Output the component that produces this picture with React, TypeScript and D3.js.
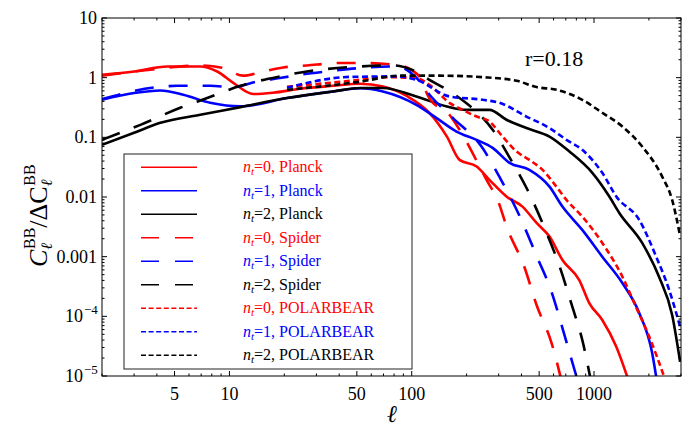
import React from 'react';
import * as d3 from 'd3';

// signal-to-noise ratio C_l^BB / ΔC_l^BB, pairs of [ell, ratio]
const planck0: [number, number][] = [[2, 1.12], [3, 1.27], [4.56, 1.54], [6.92, 1.54], [8.57, 1.27], [10.5, 0.82], [13.5, 0.531], [17.3, 0.558], [24.4, 0.652], [37, 0.731], [52, 0.79], [69.5, 0.712], [95, 0.484], [125, 0.258], [156, 0.103], [183, 0.0419], [227, 0.0324], [267, 0.0194], [331, 0.0102], [405, 0.0069], [484, 0.00367], [570, 0.00217], [671, 0.00088], [830, 0.000406], [942, 0.000167], [1110, 0.0000867], [1325, 0.0000309], [1522, 0.0000097]];
const planck1: [number, number][] = [[2, 0.426], [3, 0.552], [4.18, 0.61], [5.58, 0.517], [7.84, 0.379], [11.5, 0.33], [20.7, 0.455], [37, 0.587], [52, 0.665], [69.5, 0.587], [106, 0.351], [137, 0.21], [176, 0.125], [227, 0.0908], [278, 0.0667], [344, 0.0373], [442, 0.0285], [570, 0.0149], [671, 0.0069], [862, 0.00281], [1110, 0.001], [1430, 0.000362], [1770, 0.000114], [2084, 0.0000242], [2193, 0.0000097]];
const planck2: [number, number][] = [[2, 0.0748], [3, 0.119], [4.18, 0.175], [6.92, 0.239], [11.5, 0.321], [20.7, 0.455], [37, 0.587], [52, 0.67], [69.5, 0.67], [106, 0.484], [156, 0.329], [200, 0.289], [267, 0.289], [331, 0.197], [426, 0.143], [570, 0.103], [733, 0.0578], [979, 0.0254], [1213, 0.0102], [1376, 0.00541], [1837, 0.0017], [2276, 0.000456], [2683, 0.000105], [2966, 0.0000173]];
const spider0: [number, number][] = [[2, 1.08], [3.68, 1.36], [6.92, 1.6], [9.12, 1.47], [11.9, 1.08], [15.3, 1.27], [19.7, 1.48], [26.6, 1.6], [40.4, 1.76], [52, 1.76], [82.8, 1.64], [108, 1.12], [125, 0.45], [161, 0.239], [183, 0.134], [261, 0.0179], [296, 0.00893], [335, 0.00292], [413, 0.000698], [484, 0.000155], [585, 0.0000357], [658, 0.0000092]];
const spider1: [number, number][] = [[2, 0.438], [4.02, 0.695], [5.17, 0.731], [7.84, 0.731], [10.5, 0.695], [14.2, 0.863], [18.9, 0.984], [24.4, 1.12], [34.2, 1.27], [52, 1.45], [82.8, 1.54], [106, 0.996], [128, 0.479], [168, 0.212], [242, 0.0693], [309, 0.0194], [395, 0.00446], [484, 0.00103], [585, 0.000256], [681, 0.0000546], [782, 0.0000126], [812, 0.0000085]];
const spider2: [number, number][] = [[2, 0.0908], [3.25, 0.162], [5.37, 0.313], [7.55, 0.455], [11.5, 0.731], [18.9, 1.05], [26.6, 1.27], [52, 1.54], [78.8, 1.61], [100, 1.36], [125, 0.922], [156, 0.627], [195, 0.394], [236, 0.239], [278, 0.134], [340, 0.0489], [432, 0.0131], [535, 0.00303], [646, 0.000698], [752, 0.000161], [873, 0.0000343], [955, 0.0000092]];
const polar0: [number, number][] = [[20.7, 0.704], [52, 0.922], [69.5, 1.02], [106, 0.984], [125, 0.76], [161, 0.379], [190, 0.289], [227, 0.223], [267, 0.184], [315, 0.103], [376, 0.0578], [442, 0.0419], [522, 0.0285], [622, 0.0149], [706, 0.00893], [862, 0.00469], [1110, 0.0017], [1430, 0.000462], [1697, 0.000145], [2009, 0.0000455], [2426, 0.0000097]];
const polar1: [number, number][] = [[20.7, 0.677], [45.8, 1.03], [82.8, 1.05], [106, 0.922], [161, 0.484], [245, 0.426], [303, 0.379], [426, 0.223], [570, 0.143], [706, 0.0908], [862, 0.0617], [1110, 0.0254], [1325, 0.0102], [1770, 0.00413], [2193, 0.001], [2585, 0.000276], [2966, 0.0000669]];
const polar2: [number, number][] = [[20.7, 0.627], [52, 0.855], [86, 1.08], [142, 1.08], [245, 1.02], [376, 0.887], [484, 0.695], [622, 0.627], [862, 0.426], [1110, 0.258], [1430, 0.152], [1837, 0.0701], [2365, 0.022], [2683, 0.00893], [2966, 0.00222]];

const ntValues = ['0', '1', '2'];
const experiments = ['Planck', 'Spider', 'POLARBEAR'];
const xMajorTicks = [5, 10, 50, 100, 500, 1000];
const yMajorTicks = [10, 1, 0.1, 0.01, 0.001, 1e-4, 1e-5];
const yTickText = ['10', '1', '0.1', '0.01', '0.001', '10|−4', '10|−5'];

const W = 696;
const H = 432;
const plot = { left: 102, right: 681, top: 18, bottom: 376 };
const FONT = "'Liberation Serif', 'DejaVu Serif', serif";

const colors = ['#ff0000', '#0000ff', '#000000'];
const dashes = [null, '19,15', '6,3.5'];

const series = [
  { data: planck0, nt: 0, exp: 0 },
  { data: planck1, nt: 1, exp: 0 },
  { data: planck2, nt: 2, exp: 0 },
  { data: spider0, nt: 0, exp: 1 },
  { data: spider1, nt: 1, exp: 1 },
  { data: spider2, nt: 2, exp: 1 },
  { data: polar0, nt: 0, exp: 2 },
  { data: polar1, nt: 1, exp: 2 },
  { data: polar2, nt: 2, exp: 2 },
];

const x = d3.scaleLog().domain([2, 3000]).range([plot.left, plot.right]);
const y = d3.scaleLog().domain([1e-5, 10]).range([plot.bottom, plot.top]);

const line = d3.line<[number, number]>()
  .x(d => x(d[0]))
  .y(d => y(d[1]))
  .curve(d3.curveMonotoneX);

// minor ticks at 2..9 x 10^n within the domain
const minorTicks = (lo: number, hi: number, major: number[]) => {
  const out: number[] = [];
  for (let e = Math.floor(Math.log10(lo)); e <= Math.ceil(Math.log10(hi)); e++) {
    for (let k = 1; k < 10; k++) {
      const v = k * Math.pow(10, e);
      if (v >= lo && v <= hi && !major.some(m => Math.abs(m - v) / v < 1e-9)) out.push(v);
    }
  }
  return out;
};

const xMinor = minorTicks(2, 3000, xMajorTicks);
const yMinor = minorTicks(1e-5, 10, yMajorTicks);

const App = () => {
  const legendX = 124;
  const legendY = 154;
  const rowH = 23.5;

  return (
    <svg width={W} height={H} style={{ position: 'absolute', left: 0, top: 0, background: '#fff', fontFamily: FONT }}>
      <defs>
        <clipPath id="plot-clip">
          <rect x={plot.left} y={plot.top} width={plot.right - plot.left} height={plot.bottom - plot.top} />
        </clipPath>
      </defs>

      {/* curves */}
      <g clipPath="url(#plot-clip)">
        {series.map((s, i) => (
          <path key={i} d={line(s.data) || ''} fill="none" stroke={colors[s.nt]}
            strokeWidth={2.6} strokeDasharray={dashes[s.exp] || undefined} />
        ))}
      </g>

      {/* legend */}
      <rect x={legendX} y={legendY} width={412 - legendX} height={369 - legendY} fill="#fff" stroke="#222" strokeWidth={1} />
      {series.map((s, i) => {
        const cy = legendY + 13.3 + i * rowH;
        return (
          <g key={i}>
            <line x1={141} x2={s.exp === 1 ? 193 : 197} y1={cy} y2={cy} stroke={colors[s.nt]}
              strokeWidth={1.4} strokeDasharray={s.exp === 1 ? '18,16' : s.exp === 2 ? '5,2.6' : undefined} />
            <text x={243} y={cy + 5} fontSize={16} fill={colors[s.nt]} style={{ fontFamily: FONT }}>
              <tspan fontStyle="italic">n</tspan>
              <tspan fontStyle="italic" fontSize={11} dy={3}>t</tspan>
              <tspan dy={-3}>={ntValues[s.nt]}, {experiments[s.exp]}</tspan>
            </text>
          </g>
        );
      })}

      {/* frame */}
      <rect x={plot.left} y={plot.top} width={plot.right - plot.left} height={plot.bottom - plot.top}
        fill="none" stroke="#000" strokeWidth={1} />

      {/* x ticks */}
      {xMajorTicks.map(t => (
        <g key={'xm' + t}>
          <line x1={x(t)} x2={x(t)} y1={plot.bottom} y2={plot.bottom - 5} stroke="#000" />
          <line x1={x(t)} x2={x(t)} y1={plot.top} y2={plot.top + 5} stroke="#000" />
          <text x={x(t)} y={400} fontSize={18} textAnchor="middle" style={{ fontFamily: FONT }}>{t}</text>
        </g>
      ))}
      {xMinor.map(t => (
        <g key={'xn' + t}>
          <line x1={x(t)} x2={x(t)} y1={plot.bottom} y2={plot.bottom - 2.5} stroke="#000" />
          <line x1={x(t)} x2={x(t)} y1={plot.top} y2={plot.top + 2.5} stroke="#000" />
        </g>
      ))}

      {/* y ticks */}
      {yMajorTicks.map((t, i) => {
        const [base, sup] = yTickText[i].split('|');
        return (
          <g key={'ym' + t} style={{ fontFamily: FONT }}>
            <line x1={plot.left} x2={plot.left + 5} y1={y(t)} y2={y(t)} stroke="#000" />
            <line x1={plot.right} x2={plot.right - 5} y1={y(t)} y2={y(t)} stroke="#000" />
            <text x={sup ? 83 : 97} y={y(t) + 6} fontSize={18} textAnchor="end">{base}</text>
            {sup && <text x={84} y={y(t) - 2} fontSize={13} textAnchor="start">{sup}</text>}
          </g>
        );
      })}
      {yMinor.map(t => (
        <g key={'yn' + t}>
          <line x1={plot.left} x2={plot.left + 2.5} y1={y(t)} y2={y(t)} stroke="#000" />
          <line x1={plot.right} x2={plot.right - 2.5} y1={y(t)} y2={y(t)} stroke="#000" />
        </g>
      ))}

      {/* axis titles */}
      <text x={392} y={422} fontSize={24} fontStyle="italic" textAnchor="middle" style={{ fontFamily: FONT }}>ℓ</text>
      <g transform="translate(47,207) rotate(-90)" style={{ fontFamily: FONT }}>
        <text x={-60} y={0} fontSize={26}>
          <tspan fontStyle="italic">C</tspan>
          <tspan fontSize={16} fontStyle="italic" dy={5}>ℓ</tspan>
          <tspan fontSize={16} dx={-6} dy={-17}>BB</tspan>
          <tspan dy={12}>/ΔC</tspan>
          <tspan fontSize={16} fontStyle="italic" dy={5}>ℓ</tspan>
          <tspan fontSize={16} dx={-6} dy={-17}>BB</tspan>
        </text>
      </g>

      <text x={525} y={66} fontSize={22} style={{ fontFamily: FONT }}>r=0.18</text>
    </svg>
  );
};

export default App;
